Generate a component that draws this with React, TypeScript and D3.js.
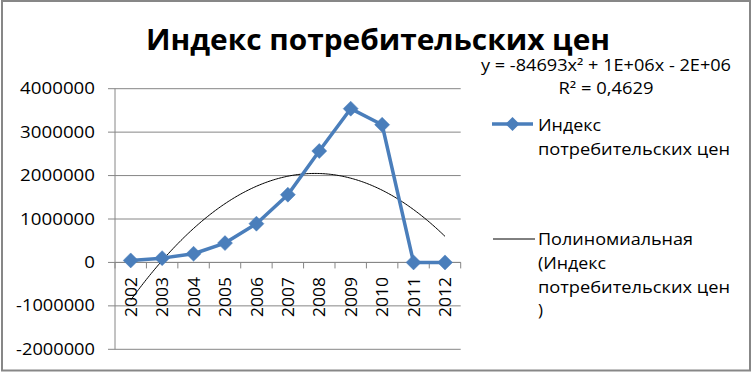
import React from 'react';
import * as d3 from 'd3';

const years = ['2002', '2003', '2004', '2005', '2006', '2007', '2008', '2009', '2010', '2011', '2012'];
const cpi = [46000, 99000, 200000, 445000, 892000, 1560000, 2565000, 3540000, 3170000, 0, 0];
const yTicks = [-2000000, -1000000, 0, 1000000, 2000000, 3000000, 4000000];
const title = 'Индекс потребительских цен';
const equation = 'y = -84693x² + 1E+06x - 2E+06';
const rSquared = 'R² = 0,4629';
const legendSeries = ['Индекс', 'потребительских цен'];
const legendTrend = ['Полиномиальная', '(Индекс', 'потребительских цен', ')'];

// least squares quadratic fit over x = 1..n
function quadFit(ys: number[]) {
  const S = [0, 0, 0, 0, 0];
  const T = [0, 0, 0];
  ys.forEach((y, i) => {
    const x = i + 1;
    for (let k = 0; k < 5; k++) S[k] += Math.pow(x, k);
    for (let k = 0; k < 3; k++) T[k] += y * Math.pow(x, k);
  });
  const M = [
    [S[0], S[1], S[2], T[0]],
    [S[1], S[2], S[3], T[1]],
    [S[2], S[3], S[4], T[2]],
  ];
  for (let i = 0; i < 3; i++) {
    let p = i;
    for (let r = i + 1; r < 3; r++) if (Math.abs(M[r][i]) > Math.abs(M[p][i])) p = r;
    [M[i], M[p]] = [M[p], M[i]];
    for (let r = 0; r < 3; r++) {
      if (r === i) continue;
      const f = M[r][i] / M[i][i];
      for (let c = i; c < 4; c++) M[r][c] -= f * M[i][c];
    }
  }
  const c = M[0][3] / M[0][0];
  const b = M[1][3] / M[1][1];
  const a = M[2][3] / M[2][2];
  return (x: number) => a * x * x + b * x + c;
}

const BLUE = '#4a7ebb';
const GRID = '#868686';
const FONT = "'Open Sans', 'Noto Sans', sans-serif";

export default function App() {
  const x = d3.scaleBand<string>().domain(years).range([115, 460.7]);
  const y = d3.scaleLinear().domain([-2000000, 4000000]).range([349.3, 88.7]);
  const cx = (yr: string) => (x(yr) as number) + x.bandwidth() / 2;
  const fit = quadFit(cpi);
  const xIdx = d3.scaleLinear().domain([1, years.length]).range([cx(years[0]), cx(years[years.length - 1])]);

  const line = d3.line<number>().x((_, i) => cx(years[i])).y((v) => y(v));
  const trendPts = d3.range(0, 201).map((k) => 1 + ((years.length - 1) * k) / 200);
  const trend = d3.line<number>().x((t) => xIdx(t)).y((t) => y(fit(t)));

  const diamond = (px: number, py: number, r: number) =>
    `M${px},${py - r}L${px + r},${py}L${px},${py + r}L${px - r},${py}Z`;

  const fmt = (v: number) => String(v);
  const labelW = (s: string) => s.replace('-', '').length * 10.7 + (s.startsWith('-') ? 4 : 0);

  const boundaries = d3.range(0, years.length + 1).map((i) => 115 + i * x.bandwidth());

  return (
    <svg width={752} height={372} style={{ position: 'absolute', left: 0, top: 0, background: '#fff' }} fontFamily={FONT}>
      <rect x={0} y={0} width={752} height={372} fill="#fff" />
      <rect x={2} y={1} width={748} height={369.5} fill="none" stroke="#878787" strokeWidth={2} />

      {/* title */}
      <text x={378} y={50} textAnchor="middle" fontSize={28} fontWeight="bold" textLength={464} lengthAdjust="spacingAndGlyphs">
        {title}
      </text>

      {/* gridlines + y ticks */}
      {yTicks.map((t) => (
        <g key={t}>
          <line x1={108} x2={460.7} y1={y(t)} y2={y(t)} stroke={GRID} strokeWidth={1} />
          <text x={95} y={y(t)} dy="0.36em" textAnchor="end" fontSize={15.5} textLength={labelW(fmt(t))} lengthAdjust="spacingAndGlyphs">
            {fmt(t)}
          </text>
        </g>
      ))}
      <line x1={115} x2={115} y1={y(4000000)} y2={y(-2000000)} stroke={GRID} strokeWidth={1} />

      {/* x axis at zero with ticks */}
      <line x1={115} x2={460.7} y1={y(0)} y2={y(0)} stroke={GRID} strokeWidth={1} />
      {boundaries.map((bx, i) => (
        <line key={i} x1={bx} x2={bx} y1={y(0)} y2={y(0) + 6} stroke={GRID} strokeWidth={1} />
      ))}
      {years.map((yr) => (
        <text
          key={yr}
          transform={`translate(${cx(yr) + 0.5},${277}) rotate(-90)`}
          dy="0.36em"
          textAnchor="end"
          fontSize={15.5}
          textLength={40}
          lengthAdjust="spacingAndGlyphs"
        >
          {yr}
        </text>
      ))}

      {/* trend */}
      <path d={trend(trendPts) as string} fill="none" stroke="#000" strokeWidth={1} />

      {/* series */}
      <path d={line(cpi) as string} fill="none" stroke={BLUE} strokeWidth={3.5} strokeLinejoin="round" />
      {cpi.map((v, i) => (
        <path key={i} d={diamond(cx(years[i]), y(v), 7.5)} fill={BLUE} stroke={BLUE} strokeWidth={0.5} />
      ))}

      {/* equation */}
      <text x={606} y={71} textAnchor="middle" fontSize={15.5} textLength={250} lengthAdjust="spacingAndGlyphs">
        {equation}
      </text>
      <text x={606} y={93.5} textAnchor="middle" fontSize={15.5} textLength={95} lengthAdjust="spacingAndGlyphs">
        {rSquared}
      </text>

      {/* legend */}
      <line x1={492} x2={533} y1={124} y2={124} stroke={BLUE} strokeWidth={3.5} />
      <path d={diamond(512.5, 124, 7)} fill={BLUE} />
      {legendSeries.map((s, i) => (
        <text key={i} x={538} y={131 + i * 24} fontSize={16} textLength={i === 0 ? 63 : 192} lengthAdjust="spacingAndGlyphs">
          {s}
        </text>
      ))}
      <line x1={493} x2={535} y1={239} y2={239} stroke="#000" strokeWidth={1} />
      {legendTrend.map((s, i) => (
        <text
          key={i}
          x={538}
          y={245 + i * 23.8}
          fontSize={16}
          textLength={[155, 68, 192, 5][i]}
          lengthAdjust="spacingAndGlyphs"
        >
          {s}
        </text>
      ))}
    </svg>
  );
}
